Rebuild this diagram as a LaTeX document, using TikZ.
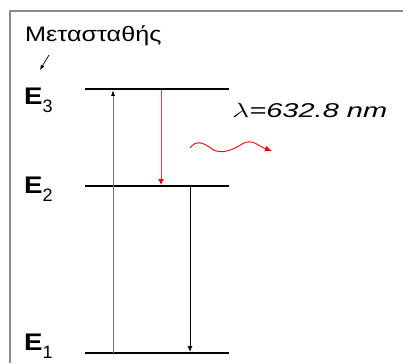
\documentclass[tikz,border=0pt]{standalone}
\usepackage{fontspec}
\setmainfont{Liberation Sans}
\usetikzlibrary{arrows.meta}

\newcommand{\lvlname}[1]{\scalebox{1.15}[1]{E}\raisebox{-8pt}{\fontsize{18}{18}\selectfont\mdseries #1}}

\begin{document}
\begin{tikzpicture}[x=1pt, y=-1pt,
  frame/.style={draw=black!45, line width=1.6pt},
  level/.style={draw, line width=1.6pt},
  pump/.style={draw=black!55, line width=0.9pt,
    -{Latex[length=6pt, width=4pt, black]}},
  decay/.style={draw, line width=0.9pt, -{Latex[length=6pt, width=5pt]}},
  laser/.style={draw=red!80, line width=0.9pt,
    -{Latex[length=6pt, width=6pt, red]}},
  wave/.style={draw=red, line width=0.9pt, -{Latex[length=7pt, width=6pt]}},
  lbl/.style={anchor=base west, inner sep=0pt,
    font=\fontsize{24}{24}\selectfont\bfseries}
]
\useasboundingbox (0,0) rectangle (403,363);

% frame (top and left edges only)
\draw[frame] (403,11) -- (10,11) -- (10,363);

% energy levels
\coordinate (E3l) at (85,89);  \coordinate (E3r) at (229,89);
\coordinate (E2l) at (85,186); \coordinate (E2r) at (229,186);
\coordinate (E1l) at (85,353); \coordinate (E1r) at (229,353);
\foreach \a/\b in {E3l/E3r, E2l/E2r, E1l/E1r}
  \draw[level] (\a) -- (\b);

\node[lbl] (lE3) at (24,105) {\lvlname{3}};
\node[lbl] (lE2) at (24,193) {\lvlname{2}};
\node[lbl] (lE1) at (24,350) {\lvlname{1}};

% transitions
\coordinate (p1) at (113,353); \coordinate (p3) at (113,90);
\coordinate (r3) at (161,90);  \coordinate (r2) at (161,185);
\coordinate (d2) at (190,187); \coordinate (d1) at (190,352);
\draw[pump] (p1) -- (p3);
\draw[laser] (r3) -- (r2);
\draw[decay] (d2) -- (d1);

% metastable label
\node[anchor=base west, inner sep=0pt, font=\fontsize{21}{21}\selectfont]
  (meta) at (25,42) {\scalebox{1.2}[1]{Μετασταθής}};
\coordinate (m0) at (49,55); \coordinate (m1) at (40,70);
\draw[line width=0.7pt, -{Latex[length=5pt, width=4pt]}] (m0) -- (m1);

% emitted photon
\coordinate (w0) at (190,148); \coordinate (w1) at (272,151);
\draw[wave] (w0) .. controls (196,140) and (203,142) .. (212,149)
  .. controls (221,155) and (233,150) .. (242,144)
  .. controls (252,138) and (258,146) .. (w1);
\node[anchor=base west, inner sep=0pt, font=\fontsize{20}{20}\selectfont]
  (lam) at (232,118) {\scalebox{1.45}[1]{$\lambda$\textit{=632.8 nm}}};
\end{tikzpicture}
\end{document}
